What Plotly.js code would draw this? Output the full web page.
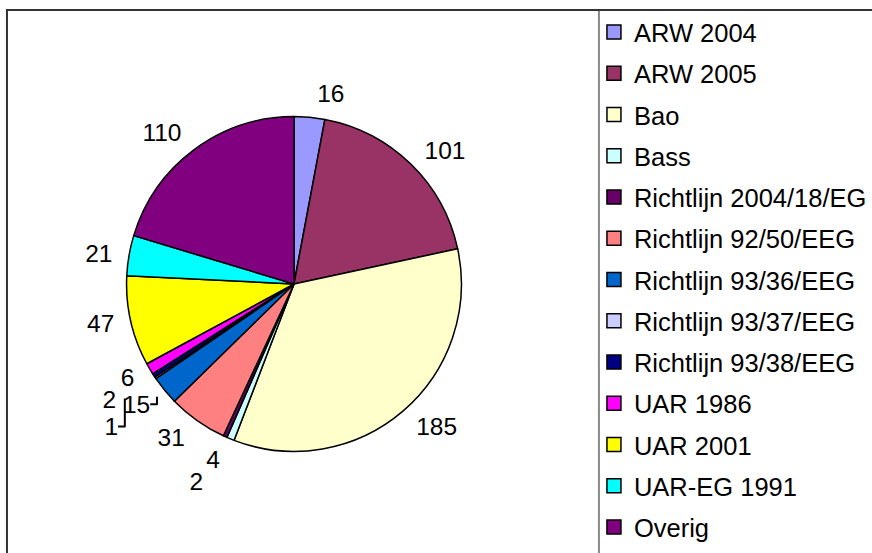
<!DOCTYPE html>
<html>
<head>
<meta charset="utf-8">
<script src="https://cdn.plot.ly/plotly-3.0.1.min.js"></script>
<style>html,body{margin:0;padding:0;background:#fff;}#chart{width:872px;height:553px;}</style>
</head>
<body>
<div id="chart"></div>
<script>
var labels = ["ARW 2004","ARW 2005","Bao","Bass","Richtlijn 2004/18/EG","Richtlijn 92/50/EEG","Richtlijn 93/36/EEG","Richtlijn 93/37/EEG","Richtlijn 93/38/EEG","UAR 1986","UAR 2001","UAR-EG 1991","Overig"];
var values = [16,101,185,4,2,31,15,1,2,6,47,21,110];
var colors = ["#9999FF","#993366","#FFFFCC","#CCFFFF","#660066","#FF8080","#0066CC","#CCCCFF","#000080","#FF00FF","#FFFF00","#00FFFF","#800080"];
// which label layer carries each slice's value label (keeps crowded small labels apart)
var labelLayer = [0,0,0,1,2,0,0,2,2,0,0,0,0];

var W = 872, H = 553;
var font = "Liberation Sans, Arial, sans-serif";
var fs = 25.5;   // legend text
var lfs = 24.5;  // slice value labels

var cx = 295, cy = 284, r = 168;
var layerRadius = [178, 178, 205];

var traces = [{
  type: "pie",
  labels: labels,
  values: values,
  sort: false,
  direction: "clockwise",
  rotation: 0,
  marker: {colors: colors, line: {color: "#000", width: 1.5}},
  textinfo: "none",
  showlegend: false,
  hoverinfo: "label+value",
  domain: {x: [(cx - r) / W, (cx + r) / W], y: [1 - (cy + r) / H, 1 - (cy - r) / H]}
}];

layerRadius.forEach(function (rl, layer) {
  traces.push({
    type: "pie",
    labels: labels,
    values: values,
    text: values.map(function (v, i) { return labelLayer[i] === layer ? String(v) : ""; }),
    sort: false,
    direction: "clockwise",
    rotation: 0,
    marker: {colors: labels.map(function () { return "rgba(0,0,0,0)"; }), line: {color: "#000", width: 0}},
    textinfo: "text",
    textposition: "outside",
    outsidetextfont: {family: font, size: lfs, color: "#000"},
    showlegend: false,
    hoverinfo: "skip",
    domain: {x: [(cx - rl) / W, (cx + rl) / W], y: [1 - (cy + rl) / H, 1 - (cy - rl) / H]}
  });
});

labels.forEach(function (lab, i) {
  traces.push({
    type: "scatter",
    mode: "markers",
    x: [null], y: [null],
    name: lab,
    legendgroup: "g" + i,
    marker: {symbol: "square", size: 14, color: colors[i], line: {color: "#000", width: 1.5}},
    showlegend: true,
    hoverinfo: "skip"
  });
});

var layout = {
  width: W, height: H,
  margin: {l: 0, r: 0, t: 0, b: 0},
  paper_bgcolor: "#fff",
  plot_bgcolor: "rgba(0,0,0,0)",
  font: {family: font, color: "#000"},
  xaxis: {visible: false, range: [0, 1], fixedrange: true},
  yaxis: {visible: false, range: [0, 1], fixedrange: true},
  showlegend: true,
  legend: {
    x: 596 / W, y: 1 - 9 / H, xanchor: "left", yanchor: "top",
    traceorder: "grouped", tracegroupgap: 5.1,
    font: {family: font, size: fs, color: "#000"},
    bgcolor: "rgba(0,0,0,0)", borderwidth: 0,
    itemclick: false, itemdoubleclick: false
  },
  shapes: [
    {type: "rect", xref: "paper", yref: "paper", x0: 601 / W, x1: 1.02, y0: -0.02, y1: 1 - 10 / H,
     line: {color: "#8a8a8a", width: 2}, fillcolor: "rgba(0,0,0,0)"},
    {type: "rect", xref: "paper", yref: "paper", x0: 7 / W, x1: 1.02, y0: -0.02, y1: 1 - 10 / H,
     line: {color: "#333", width: 2}, fillcolor: "rgba(0,0,0,0)"}
  ]
};

Plotly.newPlot("chart", traces, layout, {displayModeBar: false, staticPlot: true});
</script>
</body>
</html>
